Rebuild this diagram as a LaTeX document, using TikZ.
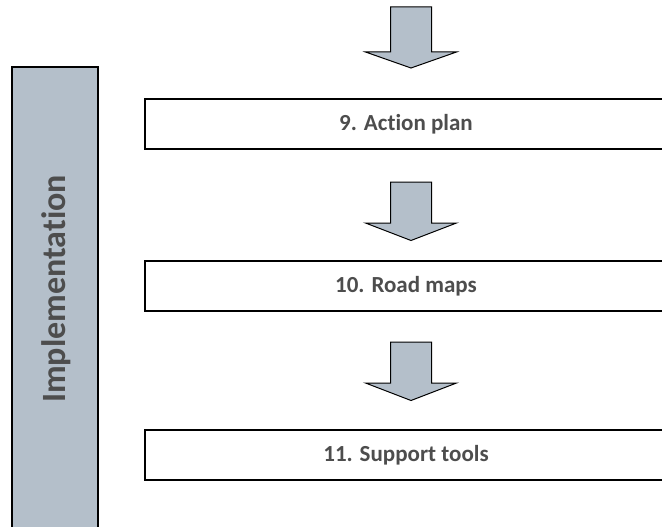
\documentclass[tikz,border=0pt]{standalone}
\usepackage{fontspec}
\setmainfont[Ligatures=NoCommon]{Carlito}
\definecolor{barfill}{RGB}{180,191,202}
\definecolor{txtgray}{RGB}{77,77,77}
\tikzset{
  x=1pt, y=1pt,
  stagebox/.style={draw=black, line width=1.6pt, fill=white, minimum width=522pt, minimum height=50pt, inner sep=0pt, font=\bfseries\fontsize{23}{26}\selectfont, text=txtgray},
  sidebar/.style={draw=black, line width=1.4pt, fill=barfill},
  barlabel/.style={rotate=90, font=\bfseries\fontsize{34}{38}\selectfont, text=txtgray, inner sep=0pt},
  blockarrowstyle/.style={draw=black, line width=1pt, fill=barfill, line join=miter},
}
\begin{document}
\begin{tikzpicture}
\useasboundingbox (0,0) rectangle (662,-527);
\clip (0,0) rectangle (662,-527);
% side bar
\draw[sidebar] (12,-67) rectangle (98,-545);
\node[barlabel] (lab) at (56,-289) {Implementation};
% boxes
\node[stagebox] (b9) at (406,-124) {9. Action plan};
\node[stagebox] (b10) at (406,-286) {10. Road maps};
\node[stagebox] (b11) at (406,-455) {11. Support tools};
% block arrows
\coordinate (a1) at (411,-7);
\coordinate (a2) at (411,-182);
\coordinate (a3) at (411,-342);
\draw[blockarrowstyle] (a1) ++(-20.5,0) -- ++(41,0) -- ++(0,-45) -- ++(25,0) -- ++(-45.5,-16) -- ++(-45.5,16) -- ++(25,0) -- cycle;
\draw[blockarrowstyle] (a2) ++(-20.5,0) -- ++(41,0) -- ++(0,-41) -- ++(25,0) -- ++(-45.5,-17.5) -- ++(-45.5,17.5) -- ++(25,0) -- cycle;
\draw[blockarrowstyle] (a3) ++(-20.5,0) -- ++(41,0) -- ++(0,-41) -- ++(25,0) -- ++(-45.5,-17.5) -- ++(-45.5,17.5) -- ++(25,0) -- cycle;
\end{tikzpicture}
\end{document}
